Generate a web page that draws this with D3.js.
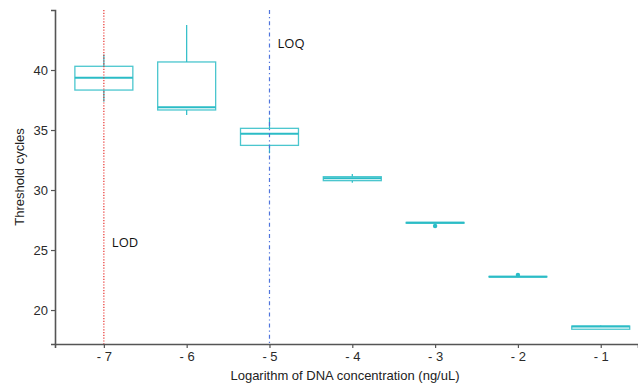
<!DOCTYPE html>
<html><head><meta charset="utf-8">
<script src="https://cdn.jsdelivr.net/npm/d3@7"></script>
<style>body{margin:0;background:#fff}svg{display:block}</style>
</head><body>
<svg id="c" width="638" height="385"></svg>
<script>
const categories = [-7, -6, -5, -4, -3, -2, -1];
const whiskLow  = [37.36, 36.25, 33.06, 30.61, 27.22, 22.75, 18.40];
const q1        = [38.33, 36.67, 33.72, 30.78, 27.24, 22.76, 18.40];
const median    = [39.36, 36.89, 34.69, 30.98, 27.27, 22.78, 18.62];
const q3        = [40.31, 40.67, 35.14, 31.11, 27.30, 22.80, 18.66];
const whiskHigh = [41.30, 43.75, 36.03, 31.33, 27.32, 22.82, 18.72];
const outlierX  = [-3, -2];
const outlierY  = [27.0, 22.92];
const yTicks = [20, 25, 30, 35, 40];
const xTicks = [-7, -6, -5, -4, -3, -2, -1];
const refLines = [{x: -7, label: "LOD", color: "#e8322f", dash: "1.2,1.6", ly: 25.6}, {x: -5, label: "LOQ", color: "#4f74dc", dash: "4,3,1.2,3", ly: 42.2}];

const svg = d3.select("#c");
const x = d3.scaleLinear().domain([-7.59, -0.55]).range([55, 638]);
const y = d3.scaleLinear().domain([17.17, 45]).range([344, 10]);
const col = "#2bbcc6";
const halfW = 0.35;

const g = svg.append("g");
categories.forEach((c, i) => {
  const gg = g.append("g");
  gg.append("line").attr("x1", x(c)).attr("x2", x(c)).attr("y1", y(q3[i])).attr("y2", y(whiskHigh[i])).attr("stroke", col).attr("stroke-width", 1.2);
  gg.append("line").attr("x1", x(c)).attr("x2", x(c)).attr("y1", y(q1[i])).attr("y2", y(whiskLow[i])).attr("stroke", col).attr("stroke-width", 1.2);
  gg.append("rect").attr("x", x(c - halfW)).attr("width", x(c + halfW) - x(c - halfW))
    .attr("y", y(q3[i])).attr("height", Math.max(0.5, y(q1[i]) - y(q3[i])))
    .attr("fill", "#fff").attr("stroke", col).attr("stroke-width", 1.3).attr("stroke-opacity", 0.85);
  gg.append("line").attr("x1", x(c - halfW)).attr("x2", x(c + halfW)).attr("y1", y(median[i])).attr("y2", y(median[i])).attr("stroke", col).attr("stroke-width", 2);
});
outlierX.forEach((c, i) => {
  g.append("circle").attr("cx", x(c)).attr("cy", y(outlierY[i])).attr("r", 2.2).attr("fill", col);
});

refLines.forEach(r => {
  svg.append("line").attr("x1", x(r.x)).attr("x2", x(r.x)).attr("y1", 10).attr("y2", 344)
    .attr("stroke", r.color).attr("stroke-width", 1.2).attr("stroke-dasharray", r.dash);
  svg.append("text").attr("x", x(r.x) + 8).attr("y", y(r.ly)).attr("dy", "0.35em")
    .attr("font-family", "Open Sans, sans-serif").attr("font-size", 13).attr("fill", "#111").text(r.label);
});

const ya = svg.append("g").attr("transform", "translate(55,0)")
  .call(d3.axisLeft(y).tickValues(yTicks).tickSize(4).tickPadding(3));
const xa = svg.append("g").attr("transform", "translate(0,344)")
  .call(d3.axisBottom(x).tickValues(xTicks).tickSize(4).tickPadding(4).tickFormat(d => d3.format("")(d).replace("−", "- ")));
[ya, xa].forEach(a => {
  a.select(".domain").attr("stroke", "#555").attr("stroke-width", 1.6);
  a.selectAll(".tick line").attr("stroke", "#555").attr("stroke-width", 1.2);
  a.selectAll("text").attr("font-family", "Liberation Sans, Arial, sans-serif").attr("font-size", 13).attr("fill", "#2a2a2a");
});

svg.append("text").attr("x", 345).attr("y", 380).attr("text-anchor", "middle")
  .attr("font-family", "Liberation Sans, Arial, sans-serif").attr("font-size", 13).attr("fill", "#222")
  .text("Logarithm of DNA concentration (ng/uL)");
svg.append("text").attr("transform", "translate(24,177) rotate(-90)").attr("text-anchor", "middle")
  .attr("font-family", "Liberation Sans, Arial, sans-serif").attr("font-size", 13).attr("fill", "#222")
  .text("Threshold cycles");
</script>
</body></html>
